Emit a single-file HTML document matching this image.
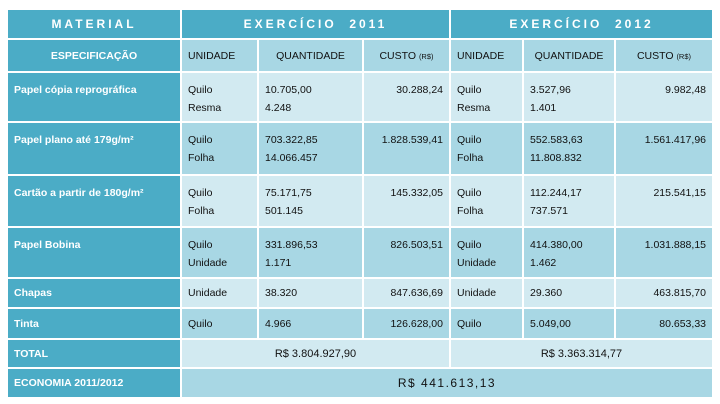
<!DOCTYPE html>
<html><head><meta charset="utf-8"><style>
body{margin:0;width:720px;height:404px;background:#fff;overflow:hidden;font-family:"Liberation Sans",sans-serif;}
.g{position:absolute;left:8px;top:10px;display:grid;grid-template-columns:172px 75px 103px 85px 71px 90px 96px;grid-template-rows:28px 31px 48px 51px 50px 49px 28px 29px 27px 28px;gap:2px;}
.g>div{font-size:10.5px;color:#111;padding:0 6px;box-sizing:border-box;white-space:nowrap;}
.d{background:#4BACC6;color:#fff!important;font-weight:bold;}
.l{background:#D2EAF1;}
.m{background:#A8D7E4;}
.t{padding-top:8px!important;line-height:18px;}
.c{display:flex;align-items:center;}
.cc{display:flex;align-items:center;justify-content:center;}
.r{text-align:right;}
.h{letter-spacing:3px;font-size:12px!important;}
small{font-size:7.5px;vertical-align:baseline;margin-top:2px;}
</style></head><body>
<div class="g">
<div class="d cc h">MATERIAL</div>
<div class="d cc h" style="grid-column:span 3">EXERCÍCIO&nbsp; 2011</div>
<div class="d cc h" style="grid-column:span 3">EXERCÍCIO&nbsp; 2012</div>

<div class="d cc">ESPECIFICAÇÃO</div>
<div class="m c">UNIDADE</div><div class="m cc">QUANTIDADE</div><div class="m cc">CUSTO&nbsp;<small>(R$)</small></div>
<div class="m c">UNIDADE</div><div class="m cc">QUANTIDADE</div><div class="m cc">CUSTO&nbsp;<small>(R$)</small></div>

<div class="d t">Papel cópia reprográfica</div>
<div class="l t">Quilo<br>Resma</div><div class="l t">10.705,00<br>4.248</div><div class="l t r">30.288,24</div>
<div class="l t">Quilo<br>Resma</div><div class="l t">3.527,96<br>1.401</div><div class="l t r">9.982,48</div>

<div class="d t">Papel plano até 179g/m²</div>
<div class="m t">Quilo<br>Folha</div><div class="m t">703.322,85<br>14.066.457</div><div class="m t r">1.828.539,41</div>
<div class="m t">Quilo<br>Folha</div><div class="m t">552.583,63<br>11.808.832</div><div class="m t r">1.561.417,96</div>

<div class="d t">Cartão a partir de 180g/m²</div>
<div class="l t">Quilo<br>Folha</div><div class="l t">75.171,75<br>501.145</div><div class="l t r">145.332,05</div>
<div class="l t">Quilo<br>Folha</div><div class="l t">112.244,17<br>737.571</div><div class="l t r">215.541,15</div>

<div class="d t">Papel Bobina</div>
<div class="m t">Quilo<br>Unidade</div><div class="m t">331.896,53<br>1.171</div><div class="m t r">826.503,51</div>
<div class="m t">Quilo<br>Unidade</div><div class="m t">414.380,00<br>1.462</div><div class="m t r">1.031.888,15</div>

<div class="d c">Chapas</div>
<div class="l c">Unidade</div><div class="l c">38.320</div><div class="l c" style="justify-content:flex-end">847.636,69</div>
<div class="l c">Unidade</div><div class="l c">29.360</div><div class="l c" style="justify-content:flex-end">463.815,70</div>

<div class="d c">Tinta</div>
<div class="m c">Quilo</div><div class="m c">4.966</div><div class="m c" style="justify-content:flex-end">126.628,00</div>
<div class="m c">Quilo</div><div class="m c">5.049,00</div><div class="m c" style="justify-content:flex-end">80.653,33</div>

<div class="d c">TOTAL</div>
<div class="l cc" style="grid-column:span 3;font-size:11px">R$ 3.804.927,90</div>
<div class="l cc" style="grid-column:span 3;font-size:11px">R$ 3.363.314,77</div>

<div class="d c">ECONOMIA 2011/2012</div>
<div class="m cc" style="grid-column:span 6;font-size:12px;letter-spacing:1.5px">R$ 441.613,13</div>
</div>
</body></html>
